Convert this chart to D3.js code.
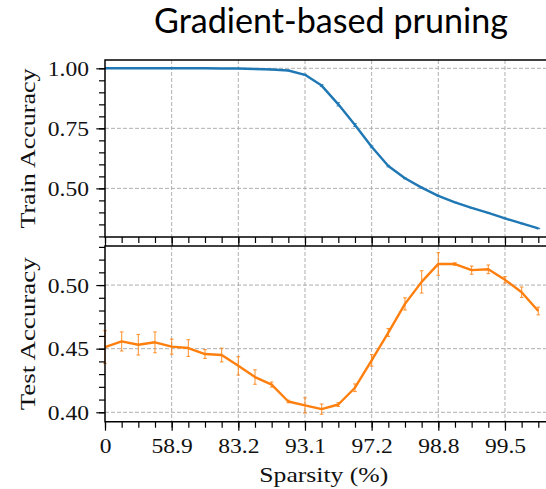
<!DOCTYPE html>
<html>
<head>
<meta charset="utf-8">
<script src="https://cdn.jsdelivr.net/npm/d3@7"></script>
<style>
  body { margin: 0; background: #fff; }
  svg { display: block; }
</style>
</head>
<body>
<svg id="chart" width="546" height="489"></svg>
<script>
// Pruning steps (one point per step) and the sparsity shown at every fourth step
const stepIndex = d3.range(27);
const majorSteps = [0, 4, 8, 12, 16, 20, 24];
const sparsityTickLabels = ["0", "58.9", "83.2", "93.1", "97.2", "98.8", "99.5"];

// Train accuracy (mean and spread) per pruning step
const trainMean = [1.000, 1.000, 1.000, 1.000, 1.000, 1.000, 1.000, 0.9995, 0.999, 0.997,
                   0.995, 0.991, 0.973, 0.928, 0.850, 0.764, 0.673, 0.593, 0.542, 0.503,
                   0.469, 0.442, 0.419, 0.398, 0.375, 0.354, 0.333];
const trainErr  = [0.000, 0.000, 0.000, 0.000, 0.000, 0.000, 0.000, 0.000, 0.000, 0.001,
                   0.001, 0.001, 0.002, 0.004, 0.007, 0.006, 0.004, 0.003, 0.002, 0.002,
                   0.002, 0.001, 0.001, 0.001, 0.001, 0.001, 0.001];

// Test accuracy (mean and spread) per pruning step
const testMean = [0.4513, 0.4557, 0.4531, 0.4550, 0.4516, 0.4505, 0.4458, 0.4450, 0.4365, 0.4277,
                  0.4218, 0.4085, 0.4054, 0.4025, 0.4061, 0.4193, 0.4408, 0.4627, 0.4852, 0.5025,
                  0.5166, 0.5165, 0.5117, 0.5124, 0.5041, 0.4944, 0.4796];
const testErr  = [0.0129, 0.0075, 0.0081, 0.0082, 0.0059, 0.0066, 0.0035, 0.0054, 0.0072, 0.0057,
                  0.0020, 0.0010, 0.0060, 0.0040, 0.0015, 0.0030, 0.0045, 0.0031, 0.0048, 0.0088,
                  0.0089, 0.0010, 0.0032, 0.0034, 0.0025, 0.0041, 0.0030];

const topTicksMajor = [0.50, 0.75, 1.00];
const topTicksMinor = d3.range(6, 21).map(k => k * 0.05);
const botTicksMajor = [0.40, 0.45, 0.50];
const botTicksMinor = d3.range(40, 54).map(k => k / 100);

const svg = d3.select("#chart");
const serif = "'Liberation Serif', 'Times New Roman', serif";
const blue = "#1f77b4", orange = "#ff7f0e";

const left = 105, right = 548.3;
const top1 = { y0: 60, y1: 237 };
const bot1 = { y0: 246, y1: 421.7 };

const x = d3.scaleLinear().domain([0, 26.6]).range([left, right]);
const yTop = d3.scaleLinear().domain([0.2975, 1.0346]).range([top1.y1, top1.y0]);
const yBot = d3.scaleLinear().domain([0.3926, 0.5307]).range([bot1.y1, bot1.y0]);

// Title, sized to a fixed width
const title = svg.append("text")
  .attr("x", 154).attr("y", 32.5)
  .attr("font-family", "Lato, 'Open Sans', sans-serif")
  .attr("font-size", 32)
  .attr("fill", "#000")
  .text("Gradient-based pruning");
{
  const w = title.node().getComputedTextLength();
  title.attr("font-size", 32 * 354 / w);
}

function panel(yScale, box, mean, err, color, ticksMajor, ticksMinor, showXLabels, label, labelLen) {
  const g = svg.append("g");

  // dashed grid
  const grid = g.append("g").attr("stroke", "#b0b0b0").attr("stroke-width", 1)
    .attr("stroke-dasharray", "4,2");
  majorSteps.filter(d => d > 0).forEach(d => {
    grid.append("line").attr("x1", x(d)).attr("x2", x(d))
      .attr("y1", box.y0).attr("y2", box.y1);
  });
  ticksMajor.forEach(v => {
    grid.append("line").attr("x1", left).attr("x2", right)
      .attr("y1", yScale(v)).attr("y2", yScale(v));
  });

  // error bars with caps
  const eb = g.append("g").attr("stroke", color).attr("stroke-width", 1.1)
    .attr("stroke-opacity", 0.8);
  stepIndex.forEach(i => {
    if (err[i] <= 0) return;
    const cx = x(i), ya = yScale(mean[i] - err[i]), yb = yScale(mean[i] + err[i]);
    eb.append("line").attr("x1", cx).attr("x2", cx).attr("y1", ya).attr("y2", yb);
    eb.append("line").attr("x1", cx - 1.8).attr("x2", cx + 1.8).attr("y1", ya).attr("y2", ya);
    eb.append("line").attr("x1", cx - 1.8).attr("x2", cx + 1.8).attr("y1", yb).attr("y2", yb);
  });

  // mean line
  g.append("path")
    .datum(stepIndex)
    .attr("fill", "none")
    .attr("stroke", color)
    .attr("stroke-width", 2.4)
    .attr("stroke-linejoin", "round")
    .attr("d", d3.line().x(i => x(i)).y(i => yScale(mean[i])));

  // y axis: minor then major ticks
  const yMinor = g.append("g").attr("transform", `translate(${left},0)`)
    .call(d3.axisLeft(yScale).tickValues(ticksMinor).tickSize(6).tickSizeOuter(0).tickFormat(""));
  const yMajor = g.append("g").attr("transform", `translate(${left},0)`)
    .call(d3.axisLeft(yScale).tickValues(ticksMajor).tickSize(8.7).tickSizeOuter(0)
      .tickFormat(d3.format(".2f")));
  [yMinor, yMajor].forEach(a => {
    a.select(".domain").remove();
    a.selectAll(".tick line").attr("stroke", "#000").attr("stroke-width", 1.2);
  });
  yMajor.selectAll(".tick text")
    .attr("x", -16).attr("dy", "0.33em")
    .attr("font-family", serif).attr("font-size", 22).attr("fill", "#111")
    .each(function () {
      const w = this.getComputedTextLength();
      d3.select(this).attr("textLength", w * 1.07).attr("lengthAdjust", "spacingAndGlyphs");
    });

  // x axis at the bottom of the panel
  const xMinor = g.append("g").attr("transform", `translate(0,${box.y1})`)
    .call(d3.axisBottom(x).tickValues(stepIndex).tickSize(6).tickSizeOuter(0).tickFormat(""));
  const xMajor = g.append("g").attr("transform", `translate(0,${box.y1})`)
    .call(d3.axisBottom(x).tickValues(majorSteps).tickSize(9).tickSizeOuter(0)
      .tickFormat((d, k) => showXLabels ? sparsityTickLabels[k] : ""));
  [xMinor, xMajor].forEach(a => {
    a.select(".domain").remove();
    a.selectAll(".tick line").attr("stroke", "#000").attr("stroke-width", 1.2);
  });
  xMajor.selectAll(".tick text")
    .attr("y", 31.6).attr("dy", 0)
    .attr("font-family", serif).attr("font-size", 22).attr("fill", "#111")
    .each(function () {
      const w = this.getComputedTextLength();
      if (w > 0) d3.select(this).attr("textLength", w * 1.07).attr("lengthAdjust", "spacingAndGlyphs");
    });

  // spines (left, top, bottom)
  g.append("path")
    .attr("fill", "none").attr("stroke", "#000").attr("stroke-width", 1.5)
    .attr("d", `M${right},${box.y0}H${left}V${box.y1}H${right}`);

  // y label
  g.append("text")
    .attr("transform", `translate(35,${(box.y0 + box.y1) / 2}) rotate(-90)`)
    .attr("text-anchor", "middle")
    .attr("font-family", serif).attr("font-size", 22).attr("fill", "#111")
    .attr("textLength", labelLen).attr("lengthAdjust", "spacingAndGlyphs")
    .text(label);
}

panel(yTop, top1, trainMean, trainErr, blue, topTicksMajor, topTicksMinor, false, "Train Accuracy", 160);
panel(yBot, bot1, testMean, testErr, orange, botTicksMajor, botTicksMinor, true, "Test Accuracy", 153);

// x label
svg.append("text")
  .attr("x", 323.8).attr("y", 481.7)
  .attr("text-anchor", "middle")
  .attr("font-family", serif).attr("font-size", 22).attr("fill", "#111")
  .attr("textLength", 129).attr("lengthAdjust", "spacingAndGlyphs")
  .text("Sparsity (%)");
</script>
</body>
</html>
